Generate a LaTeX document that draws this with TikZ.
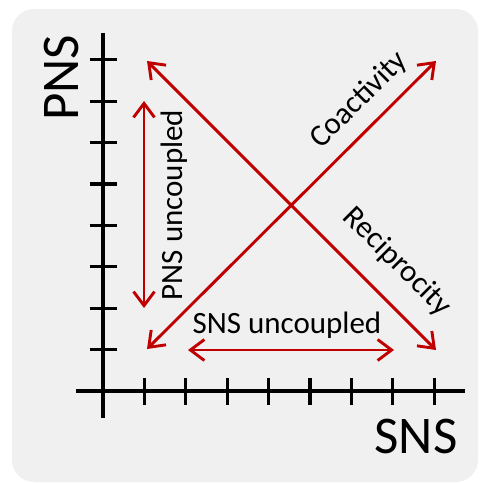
\documentclass[tikz,border=0pt]{standalone}
\usepackage{fontspec}
\setmainfont{Carlito}
\usetikzlibrary{arrows.meta}
\definecolor{bggray}{RGB}{240,240,240}
\definecolor{darkred}{RGB}{192,0,0}
\tikzset{
  axisline/.style={line width=3.8bp, black},
  tickline/.style={line width=3.2bp, black},
  redarrow/.style={line width=2.9bp, darkred, {Straight Barb[length=14bp,width=21bp,line width=2.9bp]}-{Straight Barb[length=14bp,width=21bp,line width=2.9bp]}},
  biglabel/.style={inner sep=0pt, font=\fontsize{53bp}{60bp}\selectfont},
  smalllabel/.style={inner sep=0pt, font=\fontsize{31bp}{37bp}\selectfont}
}
\begin{document}
\begin{tikzpicture}[x=1bp,y=-1bp]
\useasboundingbox (0,0) rectangle (480,483);
\fill[bggray, rounded corners=22bp] (12,9) rectangle (478,482);
% axes
\coordinate (ytop) at (103,33);
\coordinate (ybot) at (103,418);
\coordinate (xleft) at (76,391);
\coordinate (xright) at (465,391);
\draw[axisline] (ytop) -- (ybot);
\draw[axisline] (xleft) -- (xright);
\foreach \k in {1,...,8}{
  \coordinate (yt\k) at (103,391-41.4*\k);
  \coordinate (xt\k) at (103+41.4*\k,391);
  \draw[tickline] ([xshift=-13.5bp]yt\k) -- ([xshift=13.5bp]yt\k);
  \draw[tickline] ([yshift=-13.5bp]xt\k) -- ([yshift=13.5bp]xt\k);
}
% arrows
\coordinate (coA) at (147,349);
\coordinate (coB) at (436,61);
\coordinate (reA) at (147,61);
\coordinate (reB) at (436,350);
\coordinate (pnA) at (144,101);
\coordinate (pnB) at (144,308);
\coordinate (snA) at (188,350);
\coordinate (snB) at (394,350);
\draw[redarrow] (coA) -- (coB);
\draw[redarrow] (reA) -- (reB);
\draw[redarrow] (pnA) -- (pnB);
\draw[redarrow] (snA) -- (snB);
% labels
\node[biglabel, rotate=90] (pns) at (61,78) {PNS};
\node[biglabel] (sns) at (416,436) {SNS};
\node[smalllabel, rotate=45] (coact) at (359,100) {Coactivity};
\node[smalllabel, rotate=-45] (recip) at (397,262) {Reciprocity};
\node[smalllabel, rotate=90] (pnsunc) at (174,205) {PNS uncoupled};
\node[smalllabel] (snsunc) at (287,325) {SNS uncoupled};
\end{tikzpicture}
\end{document}
